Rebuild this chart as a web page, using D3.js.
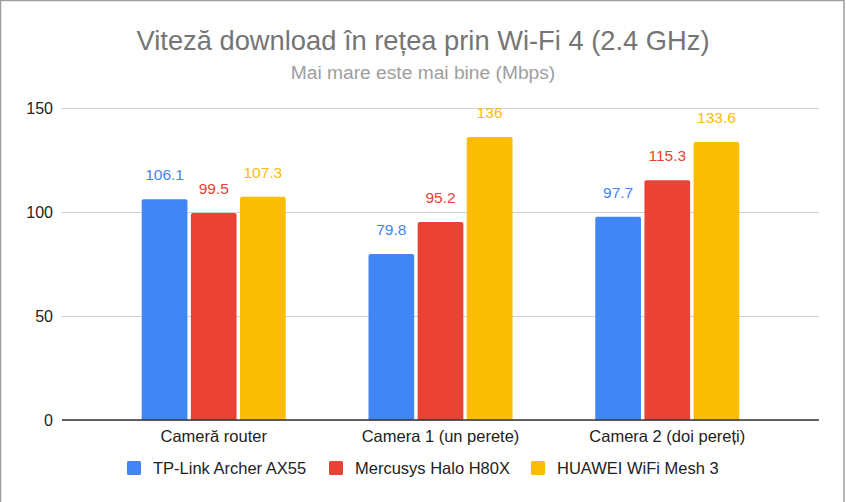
<!DOCTYPE html>
<html>
<head>
<meta charset="utf-8">
<script src="https://cdn.jsdelivr.net/npm/d3@7/dist/d3.min.js"></script>
<style>
  html, body { margin: 0; padding: 0; background: #fff; }
  svg { display: block; font-family: "Liberation Sans", Arial, sans-serif; }
</style>
</head>
<body>
<svg id="chart" width="846" height="502"></svg>
<script>
const categories = ["Cameră router", "Camera 1 (un perete)", "Camera 2 (doi pereți)"];
const seriesNames = ["TP-Link Archer AX55", "Mercusys Halo H80X", "HUAWEI WiFi Mesh 3"];
const tpLinkValues = [106.1, 79.8, 97.7];
const mercusysValues = [99.5, 95.2, 115.3];
const huaweiValues = [107.3, 136, 133.6];
const yTicks = [0, 50, 100, 150];
const colors = ["#4285F4", "#EA4335", "#FBBC04"];
const titleText = "Viteză download în rețea prin Wi-Fi 4 (2.4 GHz)";
const subtitleText = "Mai mare este mai bine (Mbps)";

const seriesValues = [tpLinkValues, mercusysValues, huaweiValues];

const W = 846, H = 502;
const plot = { left: 62, right: 819, top: 108, bottom: 420 };
const FONT = "'Liberation Sans', Arial, sans-serif";

const svg = d3.select("#chart");

// border
svg.append("rect").attr("x", 0.5).attr("y", 0.5).attr("width", 843.5).attr("height", 505)
  .attr("fill", "#fff").attr("stroke", "#9e9e9e").attr("stroke-width", 1.5);

// title
svg.append("text").attr("x", W / 2).attr("y", 50).attr("text-anchor", "middle")
  .attr("fill", "#757575").attr("font-size", 27.3).text(titleText);
svg.append("text").attr("x", W / 2).attr("y", 79).attr("text-anchor", "middle")
  .attr("fill", "#9e9e9e").attr("font-size", 19.2).text(subtitleText);

const y = d3.scaleLinear().domain([0, 150]).range([plot.bottom, plot.top]);
const x0 = d3.scaleBand().domain(categories).range([plot.left, plot.right])
  .paddingInner(0.365).paddingOuter(0.3515);
const x1 = d3.scaleBand().domain(seriesNames).range([0, x0.bandwidth()])
  .paddingInner(0.07).paddingOuter(0);

// gridlines
const yAxis = d3.axisLeft(y).tickValues(yTicks).tickSize(-(plot.right - plot.left)).tickPadding(9);
const gy = svg.append("g").attr("transform", `translate(${plot.left},0)`).call(yAxis);
gy.select(".domain").remove();
gy.selectAll(".tick line").attr("stroke", "#d0d0d0").attr("stroke-width", 1);
gy.selectAll(".tick text").attr("fill", "#222").attr("font-size", 16).attr("font-family", FONT);

// bars
const data = [];
categories.forEach((c, i) => seriesNames.forEach((s, j) => data.push({ c, s, j, v: seriesValues[j][i] })));

const g = svg.append("g");
g.selectAll("path.bar").data(data).join("path").attr("class", "bar")
  .attr("d", d => {
    const bx = x0(d.c) + x1(d.s), bw = x1.bandwidth();
    const top = y(d.v), bot = y(0), r = 2;
    return `M${bx},${bot} L${bx},${top + r} Q${bx},${top} ${bx + r},${top} L${bx + bw - r},${top} Q${bx + bw},${top} ${bx + bw},${top + r} L${bx + bw},${bot} Z`;
  })
  .attr("fill", d => colors[d.j]);

g.selectAll("text.lbl").data(data).join("text").attr("class", "lbl")
  .attr("x", d => x0(d.c) + x1(d.s) + x1.bandwidth() / 2)
  .attr("y", d => y(d.v) - 19)
  .attr("text-anchor", "middle").attr("font-size", 15.5)
  .attr("fill", d => colors[d.j]).text(d => d3.format("")(d.v));

// baseline
svg.append("line").attr("x1", plot.left).attr("x2", plot.right)
  .attr("y1", y(0)).attr("y2", y(0)).attr("stroke", "#333").attr("stroke-width", 1.5);

// category labels
const xAxis = d3.axisBottom(x0).tickSize(0).tickPadding(10);
const gx = svg.append("g").attr("transform", `translate(0,${plot.bottom})`).call(xAxis);
gx.select(".domain").remove();
gx.selectAll(".tick text").attr("fill", "#222").attr("font-size", 16.5).attr("font-family", FONT);

// legend
const legendX = [127, 329, 531];
const leg = svg.append("g");
seriesNames.forEach((s, j) => {
  leg.append("rect").attr("x", legendX[j]).attr("y", 461).attr("width", 14).attr("height", 14)
    .attr("rx", 1.5).attr("fill", colors[j]);
  leg.append("text").attr("x", legendX[j] + 26).attr("y", 474).attr("font-size", 16.5)
    .attr("fill", "#222").text(s);
});
</script>
</body>
</html>
